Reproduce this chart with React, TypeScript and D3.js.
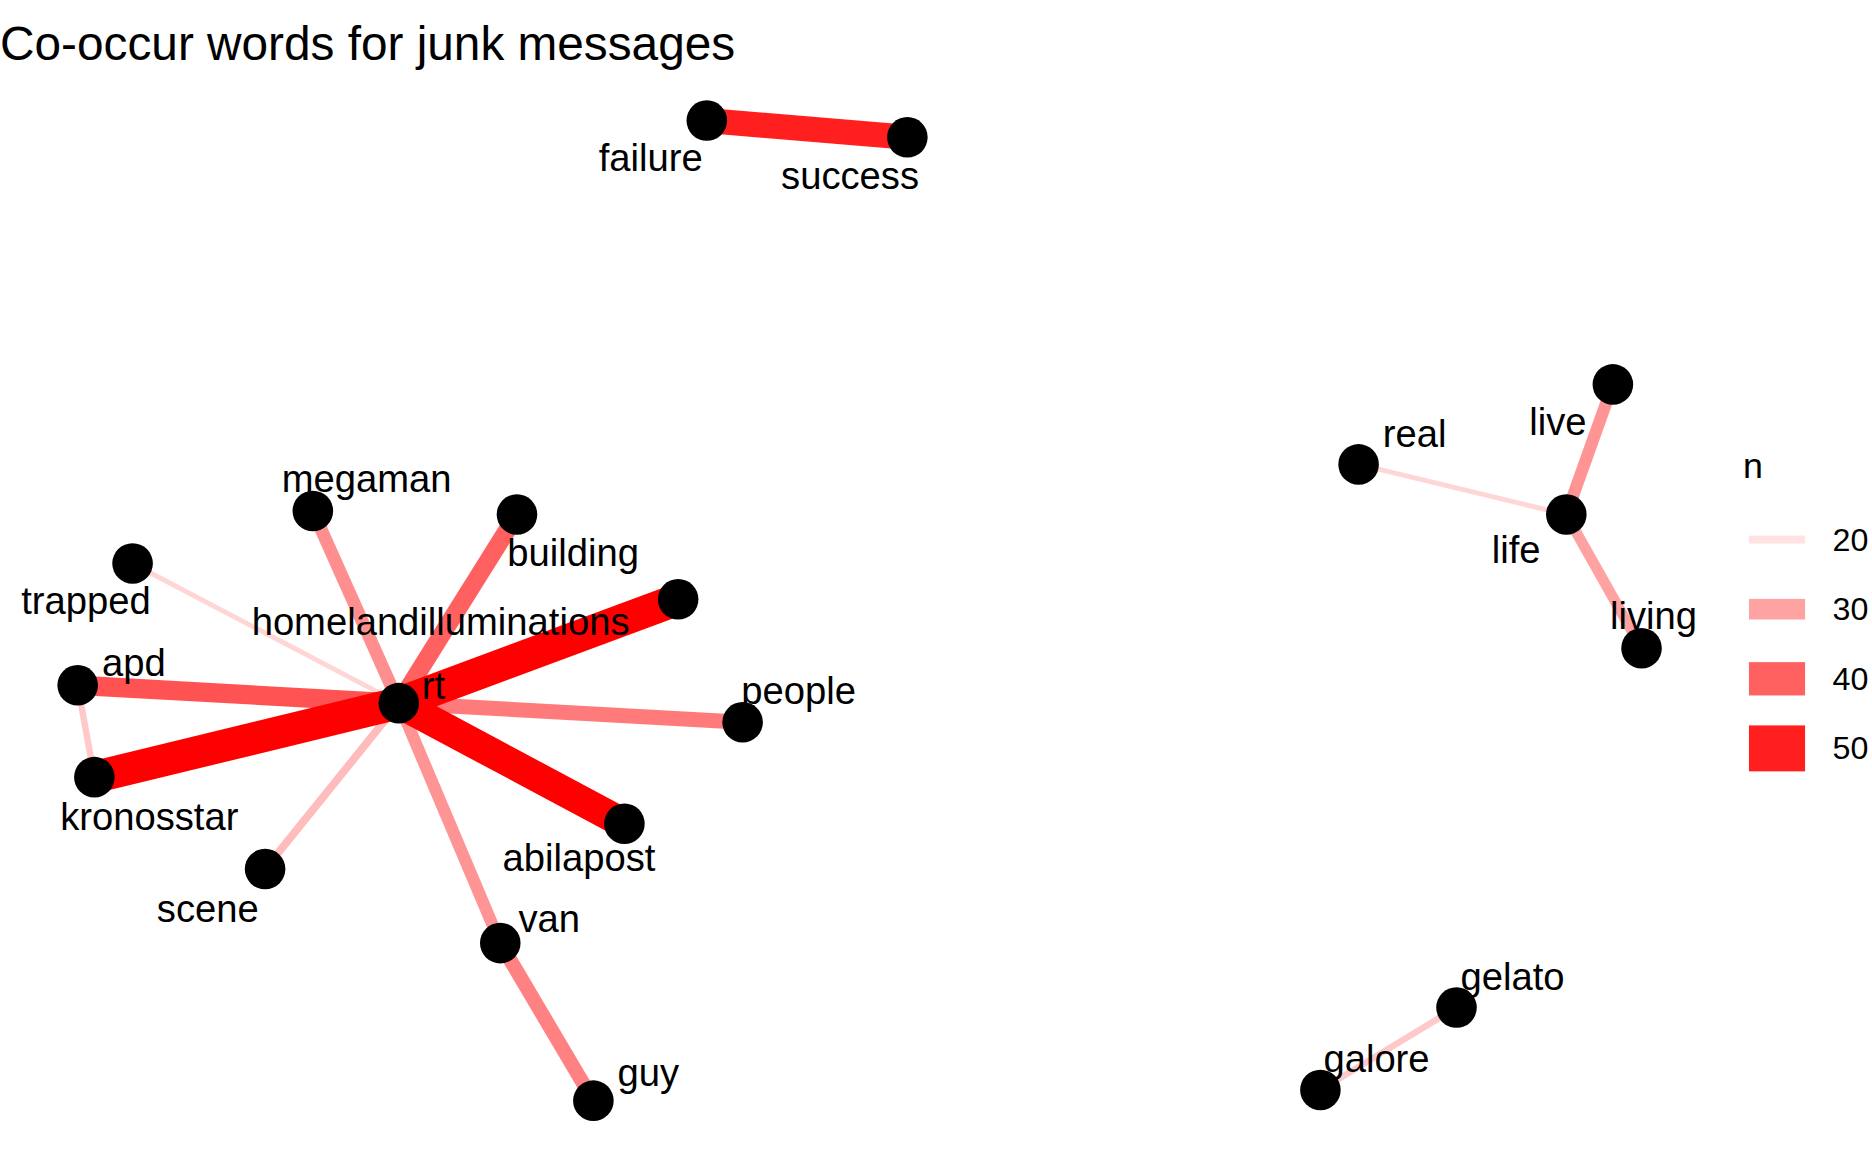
import React from "react";
import * as d3 from "d3";

const nodeNames = ["failure","success","real","live","life","living","gelato","galore","rt","megaman","building","trapped","homelandilluminations","apd","kronosstar","people","abilapost","scene","van","guy"];
const nodeX = [592,760,1138,1351,1312,1375,1220,1106,334,262,433,111,568,65,79,622,523,222,419,497];
const nodeY = [101,115,389,322,431,543,844,913,589,428,431,472,502,574,651,605,690,728,790,922];
const labelX = [545,712,1185,1305,1270,1385,1267,1153,363,307,480,72,369,112,125,669,485,174,460,543];
const labelY = [132,147,363,353,460,516,818,887,574,401,463,503,521,555,684,578,718,761,769,898];
const edgeFrom = ["failure","rt","rt","rt","rt","rt","rt","rt","rt","van","live","life","rt","rt","apd","real","gelato"];
const edgeTo = ["success","homelandilluminations","kronosstar","abilapost","apd","building","people","megaman","van","guy","life","living","scene","trapped","kronosstar","life","galore"];
const edgeN = [50,60,60,57,42,40,36,33,32,35,32,30,26,22,24,22,24];
const legendBreaks = [20,30,40,50];

export default function App() {
  const W = 1568, H = 965;
  const idx = (n: string) => nodeNames.indexOf(n);
  const width = d3.scaleLinear().domain([20, 60]).range([3, 27]);
  const alpha = d3.scaleLinear().domain([20, 50]).range([0.11, 0.88]).clamp(false);
  const col = (n: number) => `rgba(255,0,0,${Math.min(1, Math.max(0, alpha(n)))})`;
  const keyH = d3.scaleLinear().domain([20, 50]).range([6.7, 38.5]);
  const order = d3.range(edgeN.length).sort((a, b) => edgeN[a] - edgeN[b]);
  return (
    <svg width={1872} height={1152} viewBox={`0 0 ${W} ${H}`} style={{ position: "absolute", left: 0, top: 0, fontFamily: "Liberation Sans, Arial, sans-serif" }}>
      <rect width={W} height={H} fill="white" />
      <text x={0} y={50} fontSize={40}>Co-occur words for junk messages</text>
      {order.map(i => {
        const a = idx(edgeFrom[i]), b = idx(edgeTo[i]);
        return <line key={i} x1={nodeX[a]} y1={nodeY[a]} x2={nodeX[b]} y2={nodeY[b]} stroke={col(edgeN[i])} strokeWidth={width(edgeN[i])} />;
      })}
      {nodeNames.map((n, i) => <circle key={n} cx={nodeX[i]} cy={nodeY[i]} r={17} fill="black" />)}
      {nodeNames.map((n, i) => (
        <text key={"l" + n} x={labelX[i]} y={labelY[i]} fontSize={32} textAnchor="middle" dominantBaseline="central">{n}</text>
      ))}
      <text x={1460} y={400} fontSize={30}>n</text>
      {legendBreaks.map((b, i) => {
        const cy = 452 + i * 58.3;
        return (
          <g key={b}>
            <rect x={1465} y={cy - keyH(b) / 2} width={47} height={keyH(b)} fill={col(b)} />
            <text x={1535} y={cy} fontSize={27} dominantBaseline="central">{b}</text>
          </g>
        );
      })}
    </svg>
  );
}
